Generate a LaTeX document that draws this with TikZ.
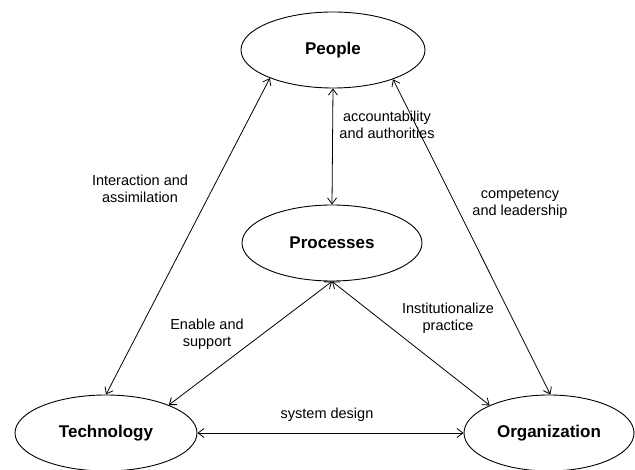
\documentclass[tikz,border=0pt]{standalone}
\usepackage{fontspec}
\setmainfont{Liberation Sans}
\usetikzlibrary{shapes.geometric,arrows.meta}
\begin{document}
\begin{tikzpicture}[x=1pt,y=1pt,yscale=-1,xscale=1,
  entity/.style={draw,ellipse,line width=0.9pt,inner sep=0pt,minimum width=184pt,minimum height=76pt,font=\fontsize{17}{20}\selectfont\bfseries},
  link/.style={<->,>={Straight Barb[length=6pt,width=9pt]},line width=0.8pt},
  lbl/.style={align=center,inner sep=0pt,font=\fontsize{14.5}{17}\selectfont}]
\useasboundingbox (0,0) rectangle (635,470);

% Ellipses
\node [entity] (people) at (333,50) {People};
\node [entity,minimum width=180pt] (proc) at (332,243) {Processes};
\node [entity,minimum width=182pt] (tech) at (106,433) {Technology};
\node [entity,minimum width=170pt] (org) at (549,433) {Organization};

% Connectors
\draw [link] (people.south) -- (proc.north) ;
\draw [link] (people.204) -- (tech.north) ;
\draw [link] (people.334) -- (org.88) ;
\draw [link] (proc.south) -- (tech.24) ;
\draw [link] (proc.south) -- (org.155) ;
\draw [link] (tech.east) -- (org.west) ;

% Text Nodes
\node [lbl] (accnt) at (387,125) {accountability\\and authorities};
\node [lbl] (inter) at (140,189) {Interaction and\\assimilation};
\node [lbl] (compet) at (520,204) {competency\\and leadership};
\node [lbl] (enable) at (207,334) {Enable and\\support};
\node [lbl] (instit) at (448,318) {Institutionalize\\practice};
\node [lbl] (sysdes) at (327,415) {system design};

\end{tikzpicture}
\end{document}
